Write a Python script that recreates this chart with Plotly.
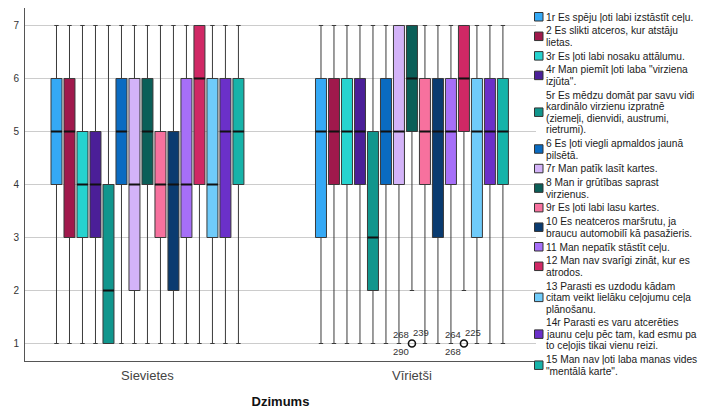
import plotly.graph_objects as go

# ---------------- data ----------------
categories = ['Sievietes', 'Vīrietši']

legend_lines = [
    ['1r Es spēju ļoti labi izstāstīt ceļu.'],
    ['2 Es slikti atceros, kur atstāju', 'lietas.'],
    ['3r Es ļoti labi nosaku attālumu.'],
    ['4r Man piemīt ļoti laba "virziena', 'izjūta".'],
    ['5r Es mēdzu domāt par savu vidi', 'kardinālo virzienu izpratnē', '(ziemeļi, dienvidi, austrumi,', 'rietrumi).'],
    ['6 Es ļoti viegli apmaldos jaunā', 'pilsētā.'],
    ['7r Man patīk lasīt kartes.'],
    ['8 Man ir grūtības saprast', 'virzienus.'],
    ['9r Es ļoti labi lasu kartes.'],
    ['10 Es neatceros maršrutu, ja', 'braucu automobilī kā pasažieris.'],
    ['11 Man nepatīk stāstīt ceļu.'],
    ['12 Man nav svarīgi zināt, kur es', 'atrodos.'],
    ['13 Parasti es uzdodu kādam', 'citam veikt lielāku ceļojumu ceļa', 'plānošanu.'],
    ['14r Parasti es varu atcerēties', 'jaunu ceļu pēc tam, kad esmu pa', 'to ceļojis tikai vienu reizi.'],
    ['15 Man nav ļoti laba manas vides', '"mentālā karte".'],
]
series_names = [' '.join(l) for l in legend_lines]

# per series: [Sievietes, Vīrietši]
q1_values = [[4, 3], [3, 4], [3, 4], [3, 4], [1, 2], [4, 4], [2, 4], [4, 5],
             [3, 4], [2, 3], [3, 4], [4, 5], [3, 3], [3, 4], [4, 4]]
median_values = [[5, 5], [5, 5], [4, 5], [4, 5], [2, 3], [5, 5], [4, 5], [5, 6],
                 [4, 5], [4, 5], [4, 5], [6, 6], [4, 5], [5, 5], [5, 5]]
q3_values = [[6, 6], [6, 6], [5, 6], [5, 6], [4, 5], [6, 6], [6, 7], [6, 7],
             [5, 6], [5, 6], [6, 6], [7, 7], [6, 6], [6, 6], [6, 6]]
lower_values = [[1, 1], [1, 1], [1, 1], [1, 1], [1, 1], [1, 1], [1, 1], [1, 2],
                [1, 1], [1, 1], [1, 1], [1, 2], [1, 1], [1, 1], [1, 1]]
upper_values = [[7, 7]] * 15
# outliers: (series index, category index, value, case labels [upper-left, upper-right, lower-left])
outliers = [(7, 1, 1, ['268', '239', '290']),
            (11, 1, 1, ['264', '225', '268'])]

colors = ['#35a9f5', '#a0194c', '#26d3cf', '#4b1f98', '#11968d', '#0a6bc1', '#d3b3f8',
          '#0b5f58', '#f7719e', '#0a3b70', '#a66ff8', '#d02865', '#6fcbfa', '#6b30c9', '#16b3a9']

# ---------------- figure ----------------
# page body has an 8px margin, so the figure is 700x402 placed at (8, 8)
OFF = 8
W, H = 700, 402
ML, MR, MT, MB = 17, 172, 0, 49
BOXGAP, BOXGROUPGAP = 0.263, 0.154
N = len(series_names)
FONT = 'Liberation Sans, Arial, sans-serif'
positions = list(range(len(categories)))

plot_w = W - ML - MR
plot_h = H - MT - MB
XRANGE = [-0.463, 1.469]
box_px = plot_w / (XRANGE[1] - XRANGE[0]) * (1 - BOXGAP) / N * (1 - BOXGROUPGAP)

fig = go.Figure()
for i in range(N):
    fig.add_trace(go.Box(
        name=series_names[i],
        x=positions,
        q1=q1_values[i], median=median_values[i], q3=q3_values[i],
        lowerfence=lower_values[i], upperfence=upper_values[i],
        boxpoints=False,
        fillcolor=colors[i],
        line=dict(color='#3a3a3a', width=1),
        whiskerwidth=0.4,
        showlegend=False,
        hoverinfo='skip',
    ))

def group_pos(series_idx, cat_idx):
    return positions[cat_idx] + (1 - BOXGAP) * (series_idx - (N - 1) / 2) / N

# emphasised median lines (as in the SPSS output); 'line-ew' spans 1.4 x marker size
mx, my = [], []
for i in range(N):
    for c in positions:
        mx.append(group_pos(i, c))
        my.append(median_values[i][c])
fig.add_trace(go.Scatter(x=mx, y=my, mode='markers', showlegend=False, hoverinfo='skip',
                         marker=dict(symbol='line-ew', size=box_px / 1.4, color='#111111',
                                     line=dict(width=2, color='#111111'))))

annotations = []
ox, oy = [], []
for si, ci, val, labs in outliers:
    xpos = group_pos(si, ci)
    ox.append(xpos)
    oy.append(val)
    for lab, (dx, dy) in zip(labs, [(-11, 9), (9, 11), (-11, -8)]):
        annotations.append(dict(x=xpos, y=val, xref='x', yref='y', text=lab,
                                showarrow=False, xshift=dx, yshift=dy,
                                font=dict(size=9.5, color='#333333', family=FONT)))
fig.add_trace(go.Scatter(x=ox, y=oy, mode='markers', showlegend=False, hoverinfo='skip',
                         marker=dict(symbol='circle-open', size=7, color='#111111',
                                     line=dict(width=1.6, color='#111111'))))

# custom legend (text lines + swatches); coordinates in screen pixels
def px2x(px):
    return (px - OFF - ML) / plot_w
def py2y(py):
    return (H - MB - (py - OFF)) / plot_h

shapes = []
LINE_H, ITEM_H = 11.5, 13.8
y = 17.0
for i, lines in enumerate(legend_lines):
    ys = []
    for k, line in enumerate(lines):
        if k > 0:
            y += LINE_H
        ys.append(y)
        annotations.append(dict(x=px2x(544), y=py2y(y), xref='paper', yref='paper',
                                text=line, showarrow=False, xanchor='left', yanchor='middle',
                                font=dict(size=10.2, color='#1a1a1a', family=FONT)))
    mid = (ys[0] + ys[-1]) / 2
    shapes.append(dict(type='rect', xref='paper', yref='paper',
                       x0=px2x(534.5), x1=px2x(543), y0=py2y(mid - 4.5), y1=py2y(mid + 4),
                       fillcolor=colors[i], line=dict(color='#333333', width=1)))
    y += ITEM_H

fig.update_layout(
    width=W, height=H,
    margin=dict(l=ML, r=MR, t=MT, b=MB),
    paper_bgcolor='white', plot_bgcolor='white',
    boxmode='group', boxgap=BOXGAP, boxgroupgap=BOXGROUPGAP,
    font=dict(family=FONT, color='#333333'),
    annotations=annotations,
    shapes=shapes,
    showlegend=False,
)
fig.update_xaxes(
    range=XRANGE, automargin=False,
    tickvals=positions, ticktext=categories,
    showline=True, linecolor='#555555', linewidth=1, showgrid=False, zeroline=False,
    ticks='outside', ticklen=2, tickcolor='rgba(0,0,0,0)',
    tickfont=dict(size=13, color='#444444', family=FONT),
    title=dict(text='<b>Dzimums</b>', standoff=15,
               font=dict(size=13, color='#111111', family=FONT)),
)
fig.update_yaxes(
    range=[0.67, 7.33], automargin=False,
    tickvals=[1, 2, 3, 4, 5, 6, 7],
    showline=True, linecolor='#555555', linewidth=1,
    showgrid=True, gridcolor='#cccccc', gridwidth=1, zeroline=False,
    ticks='outside', ticklen=3, tickcolor='rgba(0,0,0,0)',
    tickfont=dict(size=10, color='#333333', family=FONT),
)

fig.write_html('out.html')
